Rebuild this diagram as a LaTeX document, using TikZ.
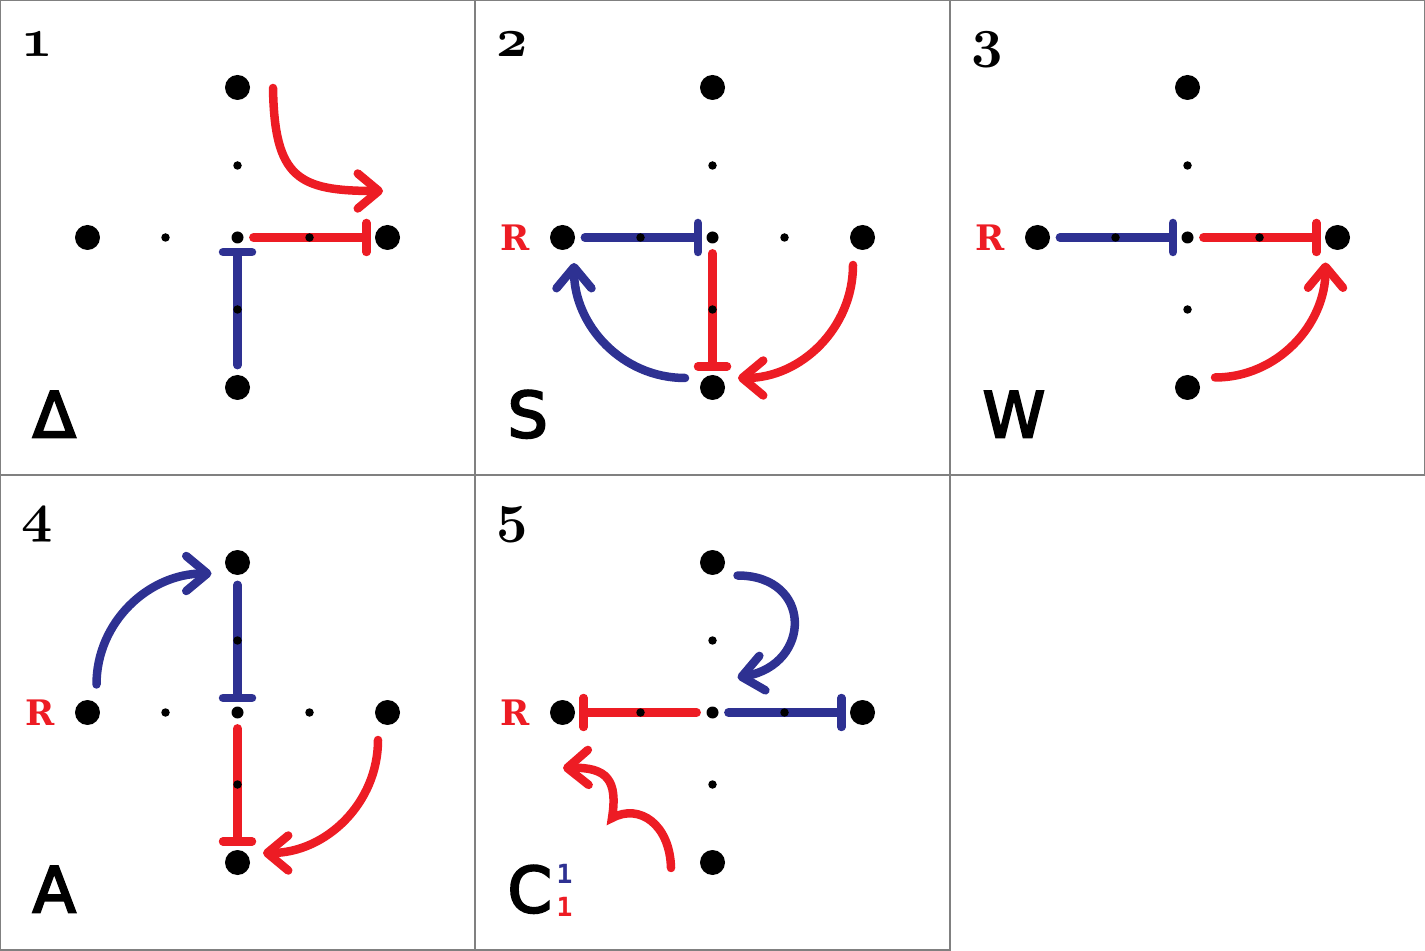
\documentclass[tikz,border=0pt]{standalone}
\usepackage{fontspec}
\usepackage{tikz}
\usetikzlibrary{positioning, arrows.meta, calc, backgrounds}

\newfontfamily\lblfont[FakeBold=3.5]{DejaVu Sans}
\newfontfamily\idxfont{DejaVu Sans Mono}
\newfontfamily\rfont{DejaVu Serif}
\definecolor{inkred}{HTML}{ED1C24}
\definecolor{inkblue}{HTML}{2E3192}
\newcommand\oldnum[1]{{\fontsize{24.88}{28}\usefont{OML}{cmm}{b}{it}#1}}

\begin{document}
\begin{tikzpicture}[
  x=0.02cm, y=0.02cm,
  panel/.style={draw=black!50, line width=0.3mm, minimum size=9.5cm, inner sep=0pt},
  site/.style={circle, fill=black, inner sep=0pt, minimum size=5mm},
  hubdot/.style={circle, fill=black, inner sep=0pt, minimum size=2.4mm},
  middot/.style={circle, fill=black, inner sep=0pt, minimum size=1.7mm},
  wire/.style={line width=1.7mm, line cap=round},
  rwire/.style={wire, draw=inkred},
  bwire/.style={wire, draw=inkblue},
  inhib/.style={-{Bar[width=5.8mm, round]}, shorten <=1.9mm, shorten >=0.8mm},
  act/.style={-{Straight Barb[length=4.2mm, width=7mm, round]}},
  num/.style={anchor=north west, inner sep=0pt, scale=1.25},
  rlab/.style={inner sep=0pt, text=inkred, font=\fontsize{20}{22}\selectfont\rfont\bfseries},
  glyph/.style={anchor=base west, inner sep=0pt, text depth=0pt, font=\fontsize{36}{38}\selectfont\lblfont},
  idx/.style={anchor=base west, inner sep=0pt, text depth=0pt, font=\fontsize{15}{15}\selectfont\idxfont\bfseries},
]
  \useasboundingbox (0,0) rectangle (1425,950);

  % --- five panels, each with its lattice ---
  \foreach \i/\cx/\cy in {1/237.5/712.5, 2/712.5/712.5, 3/1187.5/712.5, 4/237.5/237.5, 5/712.5/237.5} {
    \node[panel] (f\i) at (\cx,\cy) {};
    \foreach \nm/\dx/\dy/\kind in {N/0/150/site, S/0/-150/site, W/-150/0/site, E/150/0/site,
        C/0/0/hubdot, n/0/72/middot, s/0/-72/middot, w/-72/0/middot, e/72/0/middot}
      \node[\kind] (p\i-\nm) at ($(f\i)+(\dx,\dy)$) {};
    \node[num] (n\i) at ([shift={(22,-32)}]f\i.north west) {\oldnum{\i}};
  }
  \foreach \i in {2,3,4,5}
    \node[rlab, left=4mm of p\i-W] (r\i) {R};

  % --- panel labels ---
  \node[glyph] (g1) at ([shift={(33,-438)}]f1.north west) {Δ};
  \node[glyph] (g2) at ([shift={(33,-438)}]f2.north west) {S};
  \node[glyph] (g3) at ([shift={(33,-438)}]f3.north west) {W};
  \node[glyph] (g4) at ([shift={(33,-438)}]f4.north west) {A};
  \node[glyph] (g5) at ([shift={(33,-438)}]f5.north west) {C};
  \node[idx, text=inkblue] (sup5) at ([shift={(49,29)}]g5.base west) {1};
  \node[idx, text=inkred] (sub5) at ([shift={(49,-4)}]g5.base west) {1};

  \begin{scope}[on background layer]
  % --- panel 1 ---
  \draw[rwire, inhib] (p1-C) -- (p1-E);
  \draw[bwire, inhib] (p1-S) -- (p1-C);
  \draw[rwire, act] ($(p1-N)+(35.5,-0.5)$) .. controls +(1.5,-90) and +(-85,0) .. ($(p1-E)+(-4.5,46.5)$);

  % --- panel 2 ---
  \draw[bwire, inhib] (p2-W) -- (p2-C);
  \draw[rwire, inhib] (p2-C) -- (p2-S);
  \draw[bwire, act] ($(p2-S)+(-27.5,9.5)$) to[out=180, in=-90] ($(p2-W)+(11.5,-25.5)$);
  \draw[rwire, act] ($(p2-E)+(-9.5,-27.5)$) to[out=-90, in=0] ($(p2-S)+(25.5,9.5)$);

  % --- panel 3 ---
  \draw[bwire, inhib] (p3-W) -- (p3-C);
  \draw[rwire, inhib] (p3-C) -- (p3-E);
  \draw[rwire, act] ($(p3-S)+(27.5,10)$) to[out=0, in=-90] ($(p3-E)+(-12,-25)$);

  % --- panel 4 ---
  \draw[bwire, act] ($(p4-W)+(9,28)$) to[out=90, in=180] ($(p4-N)+(-26,-11)$);
  \draw[bwire, inhib] (p4-N) -- (p4-C);
  \draw[rwire, inhib] (p4-C) -- (p4-S);
  \draw[rwire, act] ($(p4-E)+(-9.5,-27.5)$) to[out=-90, in=0] ($(p4-S)+(25.5,9.5)$);

  % --- panel 5 ---
  \draw[rwire, inhib] (p5-C) -- (p5-W);
  \draw[bwire, inhib] (p5-C) -- (p5-E);
  \draw[bwire, act] ($(p5-N)+(25,-13)$) to[out=0, in=10, looseness=1.9] ($(p5-C)+(25,35)$);
  \coordinate (p5-kink) at ($(p5-C)+(-100.5,-105.5)$);
  \draw[rwire, act] ($(p5-S)+(-41.5,-5.5)$) .. controls +(-1,43) and +(28,15) .. (p5-kink)
    .. controls +(6,38) and +(44,1) .. ($(p5-W)+(0.5,-55.5)$);
  \end{scope}
\end{tikzpicture}
\end{document}
